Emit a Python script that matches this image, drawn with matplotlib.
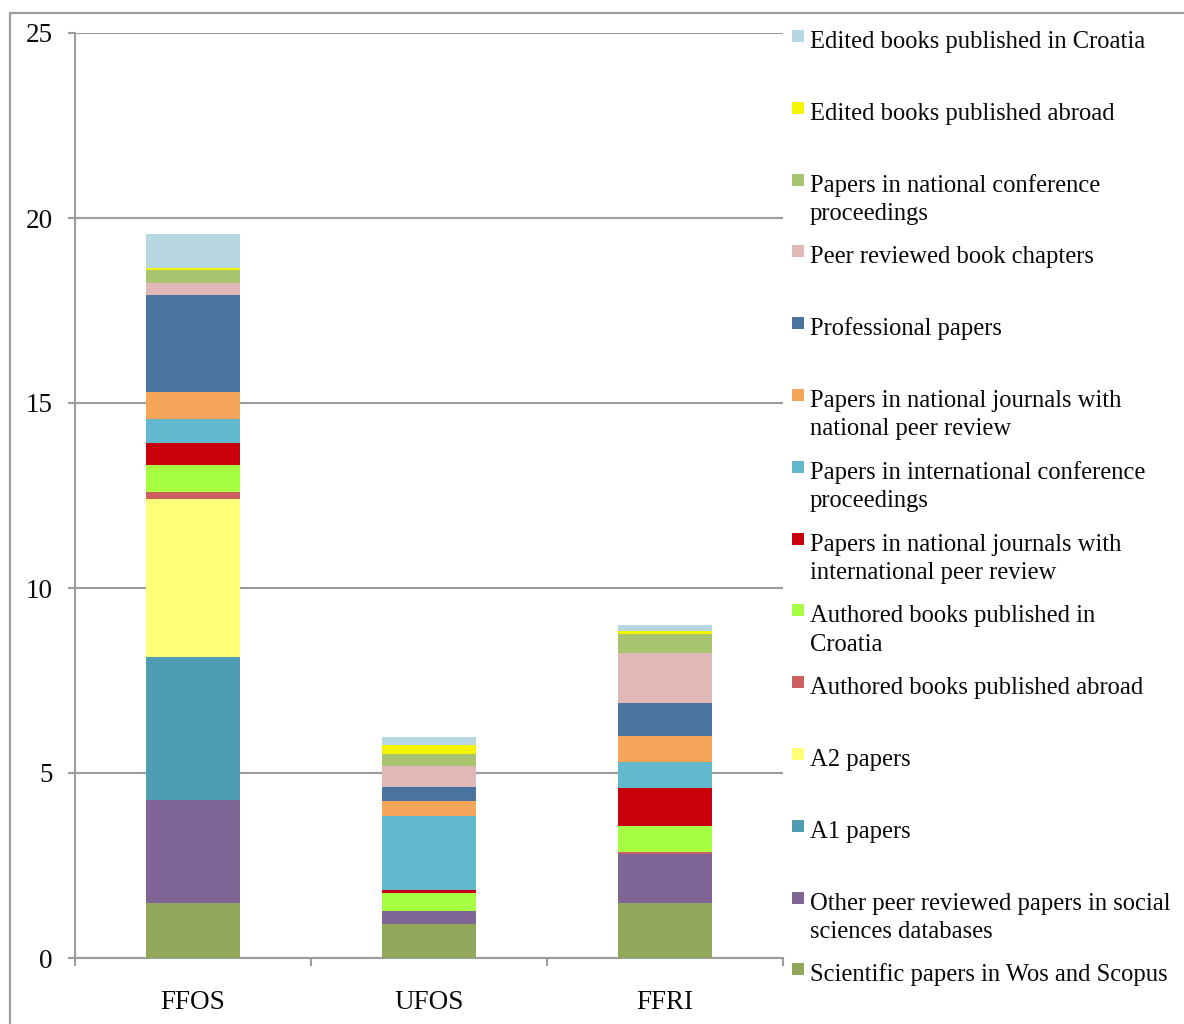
import matplotlib
matplotlib.use("Agg")
import matplotlib.pyplot as plt
from matplotlib.patches import Rectangle
import numpy as np

# Faculties on the x axis
faculties = ["FFOS", "UFOS", "FFRI"]

# Publication categories, bottom of the stack first
categories = [
    "Scientific papers in Wos and Scopus",
    "Other peer reviewed papers in social\nsciences databases",
    "A1 papers",
    "A2 papers",
    "Authored books published abroad",
    "Authored books published in\nCroatia",
    "Papers in national journals with\ninternational peer review",
    "Papers in international conference\nproceedings",
    "Papers in national journals with\nnational peer review",
    "Professional papers",
    "Peer reviewed book chapters",
    "Papers in national conference\nproceedings",
    "Edited books published abroad",
    "Edited books published in Croatia",
]

# Values per category for FFOS, UFOS, FFRI
wos_scopus        = [1.50, 0.92, 1.50]
other_ssci        = [2.77, 0.35, 1.30]
a1_papers         = [3.87, 0.00, 0.00]
a2_papers         = [4.26, 0.00, 0.00]
books_abroad      = [0.20, 0.00, 0.07]
books_croatia     = [0.72, 0.50, 0.70]
nat_j_intl_review = [0.60, 0.07, 1.02]
intl_conf         = [0.65, 2.00, 0.71]
nat_j_nat_review  = [0.72, 0.40, 0.69]
professional      = [2.64, 0.37, 0.90]
book_chapters     = [0.30, 0.57, 1.35]
nat_conf          = [0.36, 0.33, 0.53]
edited_abroad     = [0.05, 0.24, 0.07]
edited_croatia    = [0.93, 0.23, 0.16]

series = [wos_scopus, other_ssci, a1_papers, a2_papers, books_abroad,
          books_croatia, nat_j_intl_review, intl_conf, nat_j_nat_review,
          professional, book_chapters, nat_conf, edited_abroad, edited_croatia]

colors = ["#91A85A", "#7E6595", "#4E9DB2", "#FFFF77", "#CC6060",
          "#A6FF40", "#C8000B", "#62B9CE", "#F4A55A", "#4A73A0",
          "#DFB8B7", "#A9C46E", "#F5F500", "#B7D7E2"]

W, H = 1184, 1024
plt.rcParams["font.family"] = ["Liberation Serif", "DejaVu Serif"]
grey = "#9C9C9C"
ink = "#0A0A0A"

fig = plt.figure(figsize=(W / 100, H / 100), dpi=100)

# Outer chart frame
fig.patches.append(Rectangle((10 / W, -0.1), 1.2, (H - 13) / H + 0.1,
                             transform=fig.transFigure, fill=False,
                             edgecolor=grey, linewidth=1.6, zorder=0))

ax = fig.add_axes([75 / W, (H - 958) / H, 708 / W, 925 / H])

x = np.arange(len(faculties))
bottom = np.zeros(len(faculties))
for vals, col in zip(series, colors):
    vals = np.asarray(vals, dtype=float)
    ax.bar(x, vals, width=0.4, bottom=bottom, color=col, linewidth=0, zorder=3)
    bottom += vals

ax.set_xlim(-0.5, len(faculties) - 0.5)
ax.set_ylim(0, 25)
ax.set_yticks([0, 5, 10, 15, 20, 25])
ax.yaxis.grid(True, color=grey, linewidth=1.5, zorder=0)
ax.set_axisbelow(True)

ax.set_xticks(x)
ax.set_xticklabels(faculties)
ax.set_xticks(np.arange(len(faculties) + 1) - 0.5, minor=True)
ax.tick_params(axis="x", which="major", length=0, pad=23, labelsize=19.5,
               labelcolor=ink)
ax.tick_params(axis="x", which="minor", length=6, width=1.5, color=grey,
               direction="out")
ax.tick_params(axis="y", length=5, width=1.5, color=grey, pad=11,
               labelsize=19.5, labelcolor=ink)

for s in ("top", "right"):
    ax.spines[s].set_visible(False)
for s in ("left", "bottom"):
    ax.spines[s].set_color(grey)
    ax.spines[s].set_linewidth(1.5)

# Legend, top entry = top of the stack
legend_items = list(zip(categories, colors))[::-1]
for i, (label, col) in enumerate(legend_items):
    base = 48 + i * 71.8
    fig.patches.append(Rectangle((792 / W, 1 - (base - 6) / H), 12 / W, 12 / H,
                                 transform=fig.transFigure, color=col,
                                 linewidth=0))
    for k, line in enumerate(label.split("\n")):
        fig.text(810 / W, 1 - (base + k * 28.5) / H, line, fontsize=17.7,
                 ha="left", va="baseline", color=ink)

fig.savefig("out.png", dpi=100, facecolor="white")
